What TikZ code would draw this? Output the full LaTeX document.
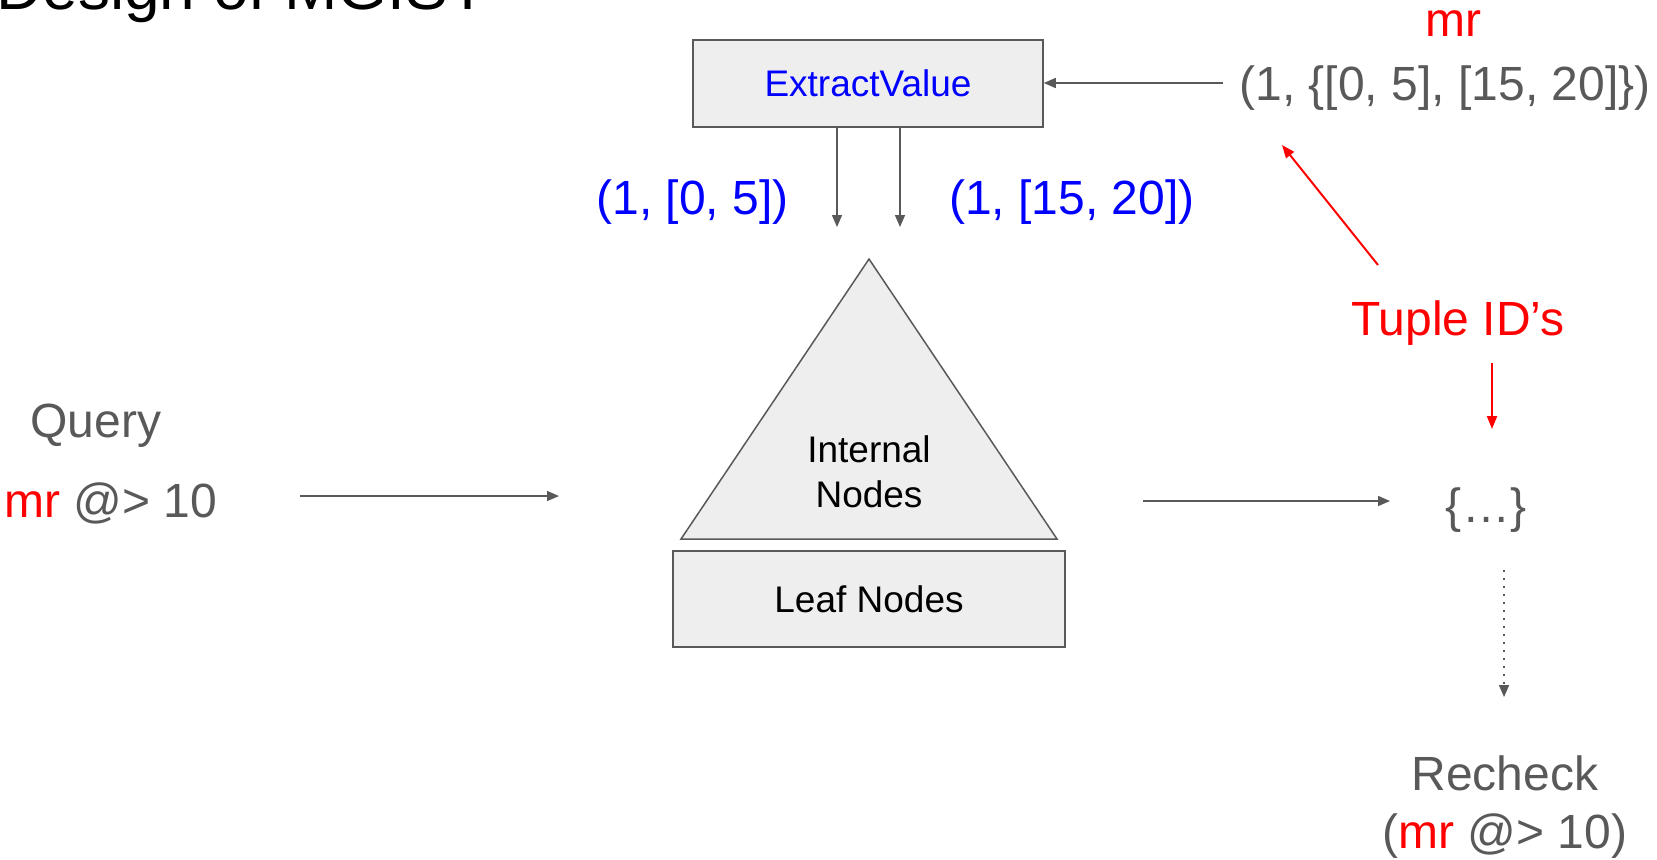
\documentclass[tikz,border=0pt]{standalone}
\usepackage{fontspec}
\setmainfont{Liberation Sans}
\usetikzlibrary{arrows.meta}

\definecolor{ink}{HTML}{595959}
\definecolor{panel}{HTML}{EEEEEE}
\definecolor{hot}{HTML}{FF0000}
\definecolor{cool}{HTML}{0000FF}

\tikzset{
  big/.style={inner sep=0pt, font=\fontsize{24}{29}\selectfont},
  mid/.style={inner sep=0pt, font=\fontsize{18.5}{22.5}\selectfont},
  graytxt/.style={big, text=ink},
  bluetxt/.style={big, text=cool},
  redtxt/.style={big, text=hot},
  panelbox/.style={draw=ink, fill=panel, line width=0.75pt, inner sep=0pt},
  conn/.style={draw=ink, line width=0.75pt, -{Triangle[length=6pt,width=5pt]}},
  redconn/.style={draw=hot, line width=1pt, -{Triangle[length=6.5pt,width=5pt]}},
  dotconn/.style={draw=ink, line width=0.9pt, dash pattern=on 0.9pt off 3.1pt,
                  -{Triangle[length=6pt,width=5pt]}},
}

\begin{document}
\begin{tikzpicture}[x=0.5pt, y=-0.5pt]
  \useasboundingbox (0,0) rectangle (1657,859);

  % slide title (runs off the top edge)
  \node[anchor=base west, inner sep=0pt, font=\fontsize{32}{38}\selectfont] (title)
    at (-4,9) {Design of MGIST};

  % ExtractValue stage
  \node[panelbox, mid, minimum width=175pt, minimum height=43.5pt, text=cool] (ev)
    at (868,83.5) {ExtractValue};

  % input tuple and its column name
  \node[redtxt, anchor=base] (mrtop) at (1453,36) {mr};
  \node[graytxt, anchor=base] (tuple) at (1445,100) {(1, \{[0, 5], [15, 20]\})};
  \coordinate (tin) at (1223,83);
  \draw[conn] (tin) -- (tin -| ev.east);

  % extracted keys
  \node[bluetxt, anchor=base east] (k1) at (789,214) {(1, [0, 5])};
  \node[bluetxt, anchor=base east] (k2) at (1195,214) {(1, [15, 20])};
  \coordinate (d1) at (837,227);
  \coordinate (d2) at (900,227);
  \draw[conn] (ev.south -| d1) -- (d1);
  \draw[conn] (ev.south -| d2) -- (d2);

  % index tree
  \coordinate (apex) at (869,259);
  \coordinate (bl) at (681,539);
  \coordinate (br) at (1057,539);
  \draw[draw=ink, fill=panel, line width=0.75pt] (apex) -- (br) -- (bl) -- cycle;
  \node[mid, align=center] (internal) at (869,472) {Internal\\Nodes};
  \node[panelbox, mid, minimum width=196pt, minimum height=48pt] (leaf)
    at (869,599) {Leaf Nodes};

  % query side
  \node[graytxt, anchor=base] (query) at (96,437) {Query};
  \node[graytxt, anchor=base] (qexpr) at (111,517) {\textcolor{hot}{mr} @> 10};
  \coordinate (q0) at (300,496);
  \coordinate (q1) at (559,496);
  \draw[conn] (q0) -- (q1);

  % result side
  \coordinate (r0) at (1143,501);
  \coordinate (r1) at (1390,501);
  \draw[conn] (r0) -- (r1);
  \node[graytxt, anchor=base] (result) at (1486,522) {\{…\}};

  \node[redtxt, anchor=base] (tids) at (1458,335) {Tuple ID’s};
  \coordinate (t0) at (1378,265);
  \coordinate (t1) at (1282,145);
  \draw[redconn] (t0) -- (t1);
  \coordinate (t2) at (1492,363);
  \coordinate (t3) at (1492,429);
  \draw[redconn] (t2) -- (t3);

  \coordinate (c0) at (1504,570);
  \coordinate (c1) at (1504,697);
  \draw[dotconn] (c0) -- (c1);

  \node[graytxt, align=center, font=\fontsize{24}{29}\selectfont] (recheck)
    at (1505,807) {Recheck\\(\textcolor{hot}{mr} @> 10)};
\end{tikzpicture}
\end{document}
